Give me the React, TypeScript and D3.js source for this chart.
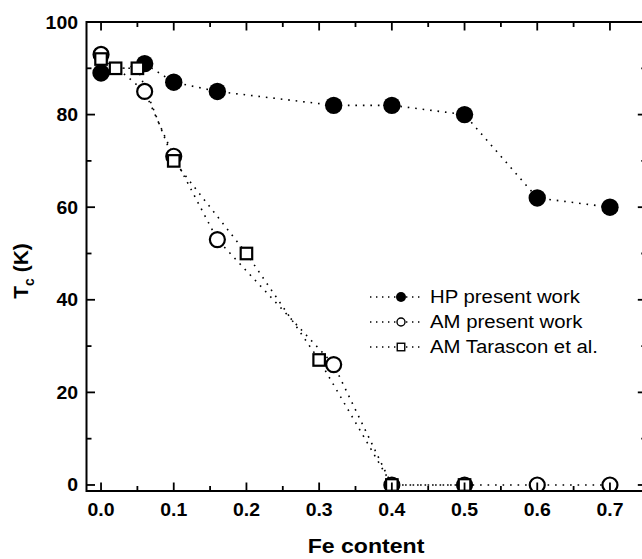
import React from "react";
import * as d3 from "d3";

// Fe content (x) and superconducting transition temperature Tc in K (y)
const feHP = [0, 0.06, 0.1, 0.16, 0.32, 0.4, 0.5, 0.6, 0.7];
const tcHP = [89, 91, 87, 85, 82, 82, 80, 62, 60];

const feAM = [0, 0.06, 0.1, 0.16, 0.32, 0.4, 0.5, 0.6, 0.7];
const tcAM = [93, 85, 71, 53, 26, 0, 0, 0, 0];

const feTar = [0, 0.02, 0.05, 0.1, 0.2, 0.3, 0.4, 0.5];
const tcTar = [92, 90, 90, 70, 50, 27, 0, 0];

const xMajor = [0, 0.1, 0.2, 0.3, 0.4, 0.5, 0.6, 0.7];
const xMinor = [0.05, 0.15, 0.25, 0.35, 0.45, 0.55, 0.65];
const yMajor = [0, 20, 40, 60, 80, 100];
const yMinor = [10, 30, 50, 70, 90];

const legendLabels = ["HP present work", "AM present work", "AM Tarascon et al."];

const W = 642;
const H = 559;
const left = 86.5;
const right = 646.3;
const top = 22;
const bottom = 491;

const FONT = "'Liberation Sans', Arial, Helvetica, sans-serif";
const DOT = "1.6 5.9";

type Pt = [number, number];
const zip = (xs: number[], ys: number[]): Pt[] => xs.map((x, i) => [x, ys[i]]);

export default function App() {
  const x = d3.scaleLinear().domain([-0.02, 0.75]).range([left, right]);
  const y = d3.scaleLinear().domain([-1.3, 100]).range([bottom, top]);

  const line = d3
    .line<Pt>()
    .x((d) => x(d[0]))
    .y((d) => y(d[1]));

  const hp = zip(feHP, tcHP);
  const am = zip(feAM, tcAM);
  const tar = zip(feTar, tcTar);

  const major = 8.5;
  const minor = 5;
  const sx = 1.08;

  const circleFilled = (cx: number, cy: number, r: number, key?: string) => (
    <circle key={key} cx={cx} cy={cy} r={r} fill="#000" />
  );
  const circleOpen = (cx: number, cy: number, r: number, sw: number, key?: string) => (
    <circle key={key} cx={cx} cy={cy} r={r} fill="#fff" stroke="#000" strokeWidth={sw} />
  );
  const square = (cx: number, cy: number, s: number, sw: number, key?: string) => (
    <rect key={key} x={cx - s / 2} y={cy - s / 2} width={s} height={s} fill="#fff" stroke="#000" strokeWidth={sw} />
  );

  const legendY = [297, 322, 347];

  return (
    <svg
      width={W}
      height={H}
      style={{ position: "absolute", left: 0, top: 0, background: "#fff" }}
      fontFamily={FONT}
    >
      <defs>
        <clipPath id="plotArea">
          <rect x={left} y={top} width={right - left} height={bottom - top} />
        </clipPath>
      </defs>
      <rect x={0} y={0} width={W} height={H} fill="#fff" />

      {/* series */}
      <g clipPath="url(#plotArea)">
        <path d={line(hp) ?? ""} fill="none" stroke="#000" strokeWidth={1.6} strokeDasharray={DOT} />
        <path d={line(am) ?? ""} fill="none" stroke="#000" strokeWidth={1.6} strokeDasharray={DOT} />
        <path d={line(tar) ?? ""} fill="none" stroke="#000" strokeWidth={1.6} strokeDasharray={DOT} />
        {hp.map((d, i) => circleFilled(x(d[0]), y(d[1]), 8.7, `hp${i}`))}
        {am.map((d, i) => circleOpen(x(d[0]), y(d[1]), 7.5, 2.2, `am${i}`))}
        {tar.map((d, i) => square(x(d[0]), y(d[1]), 11.5, 2.2, `tar${i}`))}
      </g>

      {/* frame */}
      <rect x={left} y={top} width={right - left} height={bottom - top} fill="none" stroke="#000" strokeWidth={2} />

      {/* x ticks, bottom and top, pointing inward */}
      {xMajor.map((v) => (
        <g key={`xM${v}`} stroke="#000" strokeWidth={1.8}>
          <line x1={x(v)} x2={x(v)} y1={bottom} y2={bottom - major} />
          <line x1={x(v)} x2={x(v)} y1={top} y2={top + major} />
        </g>
      ))}
      {xMinor.map((v) => (
        <g key={`xm${v}`} stroke="#000" strokeWidth={1.8}>
          <line x1={x(v)} x2={x(v)} y1={bottom} y2={bottom - minor} />
          <line x1={x(v)} x2={x(v)} y1={top} y2={top + minor} />
        </g>
      ))}
      {/* y ticks, left and right */}
      {yMajor.map((v) => (
        <g key={`yM${v}`} stroke="#000" strokeWidth={1.8}>
          <line x1={left} x2={left + major} y1={y(v)} y2={y(v)} />
          <line x1={right} x2={right - major} y1={y(v)} y2={y(v)} />
        </g>
      ))}
      {yMinor.map((v) => (
        <g key={`ym${v}`} stroke="#000" strokeWidth={1.8}>
          <line x1={left} x2={left + minor} y1={y(v)} y2={y(v)} />
          <line x1={right} x2={right - minor} y1={y(v)} y2={y(v)} />
        </g>
      ))}

      {/* tick labels */}
      {xMajor.map((v) => (
        <g key={`xl${v}`} transform={`translate(${x(v)},516) scale(${sx},1)`}>
          <text textAnchor="middle" fontSize={18} fontWeight="bold" fill="#000">
            {d3.format(".1f")(v)}
          </text>
        </g>
      ))}
      {yMajor.map((v) => (
        <g key={`yl${v}`} transform={`translate(78,${y(v) + 6.5}) scale(${sx},1)`}>
          <text textAnchor="end" fontSize={18} fontWeight="bold" fill="#000">
            {v}
          </text>
        </g>
      ))}

      {/* axis titles */}
      <g transform={`translate(366,553) scale(1.1,1)`}>
        <text textAnchor="middle" fontSize={21} fontWeight="bold" fill="#000">
          Fe content
        </text>
      </g>
      <g transform={`translate(28,271) rotate(-90)`}>
        <text textAnchor="middle" fontSize={21} fontWeight="bold" fill="#000">
          T
          <tspan fontSize={14} dy={6}>c</tspan>
          <tspan dy={-6}> (K)</tspan>
        </text>
      </g>

      {/* legend */}
      {legendLabels.map((label, i) => {
        const ly = legendY[i];
        return (
          <g key={label}>
            <line x1={370} x2={422} y1={ly} y2={ly} stroke="#000" strokeWidth={1.4} strokeDasharray="1.4 4.6" />
            {i === 0 && circleFilled(401, ly, 5)}
            {i === 1 && circleOpen(401, ly, 4, 1.4)}
            {i === 2 && square(401, ly, 7.5, 1.4)}
            <g transform={`translate(430,${ly + 6.3}) scale(1.13,1)`}>
              <text fontSize={18} fill="#000">
                {label}
              </text>
            </g>
          </g>
        );
      })}
    </svg>
  );
}
